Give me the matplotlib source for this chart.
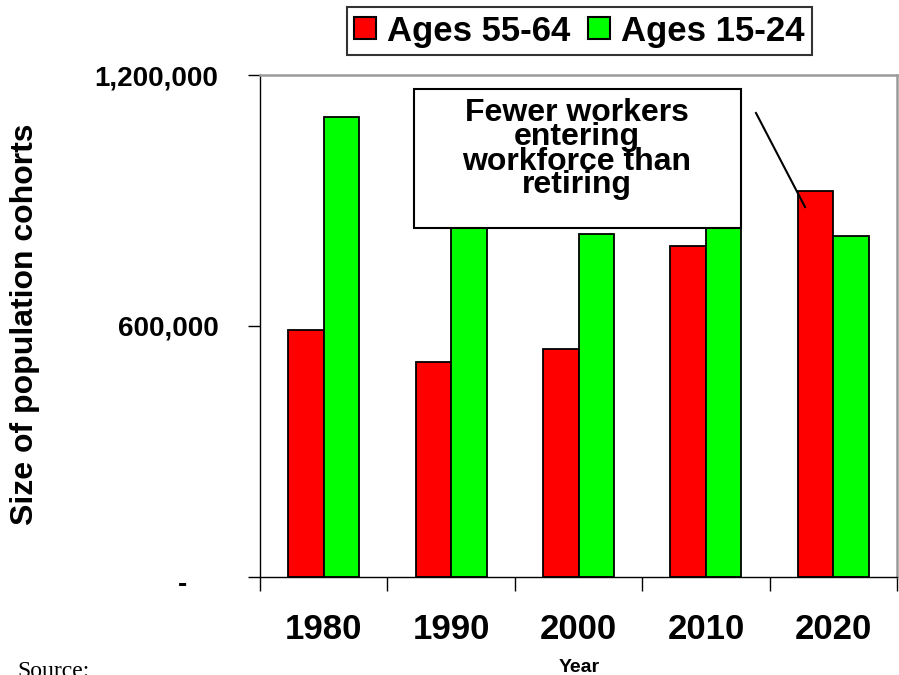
import matplotlib
matplotlib.use("Agg")
import matplotlib.pyplot as plt
import numpy as np
from matplotlib.patches import Rectangle, Patch
from matplotlib.lines import Line2D
from matplotlib.transforms import ScaledTranslation

years = ["1980", "1990", "2000", "2010", "2020"]
ages_55_64 = [590000, 515000, 546000, 792000, 923000]
ages_15_24 = [1100000, 880000, 819000, 935000, 815000]
series_names = ["Ages 55-64", "Ages 15-24"]
series_colors = ["#FF0000", "#00FF00"]
ytick_values = [0, 600000, 1200000]
ytick_labels = ["-    ", "600,000", "1,200,000"]
note_lines = ["Fewer workers", "entering", "workforce than", "retiring"]

plt.rcParams['font.family'] = ['Liberation Sans', 'DejaVu Sans']

W, H = 899, 675
fig = plt.figure(figsize=(W / 100, H / 100), dpi=100)
fig.patch.set_facecolor("white")

L, R, T, B = 260, 897, 75, 577
ax = fig.add_axes([L / W, (H - B) / H, (R - L) / W, (B - T) / H])

x = np.arange(len(years))
bw = 0.278
ax.bar(x - bw / 2, ages_55_64, bw, color=series_colors[0], edgecolor="black", linewidth=1.3, zorder=2)
ax.bar(x + bw / 2, ages_15_24, bw, color=series_colors[1], edgecolor="black", linewidth=1.3, zorder=2)

ax.set_xlim(-0.5, len(years) - 0.5)
ax.set_ylim(0, 1200000)

# spines
for s in ["left", "bottom"]:
    ax.spines[s].set_color("black")
    ax.spines[s].set_linewidth(1.0)
for s in ["top", "right"]:
    ax.spines[s].set_color("#9a9a9a")
    ax.spines[s].set_linewidth(1.8)

# y ticks
ax.set_yticks(ytick_values)
ax.set_yticklabels(ytick_labels, fontsize=20, fontweight="bold")
ax.tick_params(axis="y", direction="out", length=9, width=1, pad=21)
lab0 = ax.get_yticklabels()[0]
lab0.set_transform(lab0.get_transform() + ScaledTranslation(0, -5 / 100, fig.dpi_scale_trans))

# x ticks: boundaries as major ticks, labels as minor
ax.set_xticks(np.arange(len(years) + 1) - 0.5)
ax.set_xticklabels([])
ax.tick_params(axis="x", which="major", direction="out", length=10, width=1)
ax.set_xticks(x, minor=True)
ax.set_xticklabels(years, minor=True, fontsize=25, fontweight="bold")
ax.tick_params(axis="x", which="minor", length=0, pad=26)

ax.set_ylabel("Size of population cohorts", fontsize=23, fontweight="bold")
ax.yaxis.set_label_coords((40 - L) / (R - L), (B - 324) / (B - T))

# annotation box
def ax_frac(px, py):
    return (px - L) / (R - L), (B - py) / (B - T)

bx0, by0 = ax_frac(414, 228)
bx1, by1 = ax_frac(741, 89)
ax.add_patch(Rectangle((bx0, by0), bx1 - bx0, by1 - by0, transform=ax.transAxes,
                       facecolor="white", edgecolor="black", linewidth=1.5, zorder=5))
baselines = [121, 145, 170, 193]
for line, bl in zip(note_lines, baselines):
    tx, ty = ax_frac(577, bl)
    ax.text(tx, ty, line, transform=ax.transAxes, ha="center", va="baseline",
            fontsize=23, fontweight="bold", zorder=6)

# pointer line
p0 = ax_frac(756, 113)
p1 = ax_frac(805, 207)
ax.add_line(Line2D([p0[0], p1[0]], [p0[1], p1[1]], transform=ax.transAxes,
                   color="black", linewidth=1.5, zorder=6))

# legend
handles = [Patch(facecolor=c, edgecolor="black", linewidth=1.5) for c in series_colors]
leg = fig.legend(handles, series_names, loc="center",
                 bbox_to_anchor=(579.5 / W, (H - 31) / H), ncol=2,
                 prop={"size": 25, "weight": "bold"}, frameon=True, fancybox=False,
                 edgecolor="black", handlelength=0.62, handleheight=0.58,
                 handletextpad=0.33, columnspacing=0.5, borderpad=0.22,
                 borderaxespad=0)
leg.get_frame().set_linewidth(1.5)

fig.text(579 / W, (H - 667) / H, "Year", ha="center", va="center", fontsize=14, fontweight="bold")
fig.text(17 / W, -2 / H, "Source:", ha="left", va="baseline", fontsize=17,
         family=["Liberation Serif", "DejaVu Serif"])

fig.savefig("out.png", dpi=100)
